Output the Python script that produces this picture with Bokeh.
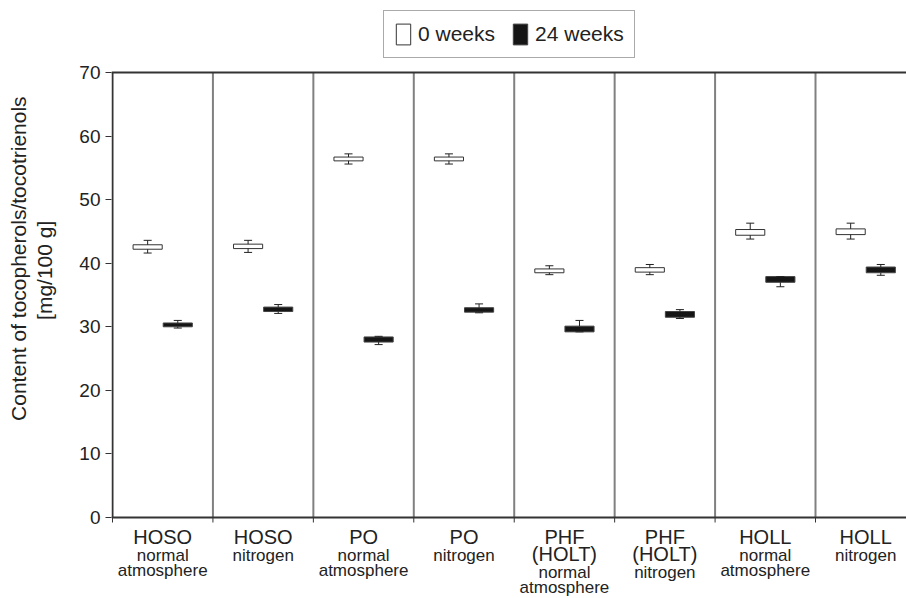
from bokeh.plotting import figure
from bokeh.models import (Range1d, FixedTicker, Span, Legend, LegendItem,
                          ColumnDataSource, LabelSet)
from bokeh.core.properties import value
from bokeh.embed import file_html
from bokeh.resources import INLINE

# ---------------- data ----------------
cat_main = ["HOSO", "HOSO", "PO", "PO", "PHF", "PHF", "HOLL", "HOLL"]
cat_sub = [
    ["normal", "atmosphere"],
    ["nitrogen"],
    ["normal", "atmosphere"],
    ["nitrogen"],
    ["(HOLT)", "normal", "atmosphere"],
    ["(HOLT)", "nitrogen"],
    ["normal", "atmosphere"],
    ["nitrogen"],
]

# 0 weeks (white boxes)
w_box_lo = [42.2, 42.3, 56.1, 56.1, 38.5, 38.6, 44.4, 44.5]
w_box_hi = [42.9, 43.0, 56.7, 56.7, 39.1, 39.3, 45.3, 45.4]
w_wlo = [41.6, 41.7, 55.6, 55.6, 38.2, 38.2, 43.8, 43.8]
w_whi = [43.6, 43.6, 57.2, 57.2, 39.6, 39.8, 46.3, 46.3]

# 24 weeks (black boxes)
b_box_lo = [30.0, 32.4, 27.6, 32.3, 29.2, 31.5, 37.0, 38.5]
b_box_hi = [30.6, 33.1, 28.4, 33.0, 30.1, 32.4, 37.9, 39.4]
b_wlo = [29.8, 32.1, 27.2, 32.2, 29.2, 31.3, 36.3, 38.1]
b_whi = [31.0, 33.5, 28.5, 33.6, 31.0, 32.7, 37.9, 39.8]

y_ticks = [0, 10, 20, 30, 40, 50, 60, 70]
y_title = ["Content of tocopherols/tocotrienols", "[mg/100 g]"]
series_names = ["0 weeks", "24 weeks"]

# ---------------- layout constants ----------------
FONT = "Liberation Sans"
W, H = 906, 598
LEFT = 111          # frame left edge (px)
TOP0 = 72           # pixel row of y = 70
BOT0 = 517          # pixel row of y = 0
CATW = 100.43       # px per category
PX = (BOT0 - TOP0) / 70.0
n = len(cat_main)

x0 = -1.0 / CATW
p = figure(width=W, height=H, output_backend="svg", toolbar_location=None,
           x_axis_location=None,
           x_range=Range1d(x0, x0 + (W - LEFT) / CATW),
           y_range=Range1d(-(H - BOT0) / PX, 70 + TOP0 / PX),
           min_border_left=LEFT, min_border_right=0, min_border_top=0,
           min_border_bottom=0)
p.outline_line_color = None
p.background_fill_color = "white"
p.border_fill_color = "white"
p.xgrid.grid_line_color = None
p.ygrid.grid_line_color = None

# y axis
p.yaxis.ticker = FixedTicker(ticks=y_ticks)
p.yaxis.bounds = (0, 70)
p.yaxis.axis_line_color = None
p.yaxis.minor_tick_line_color = None
p.yaxis.major_tick_out = 6
p.yaxis.major_tick_in = 0
p.yaxis.major_tick_line_width = 1
p.yaxis.major_tick_line_color = "#333333"
p.yaxis.major_label_text_font = FONT
p.yaxis.major_label_text_font_size = "19px"
p.yaxis.major_label_text_color = "#222222"
p.yaxis.major_label_standoff = 5
NB = "\u00a0"
p.yaxis.axis_label = NB * 14 + y_title[0] + "\n" + NB * 10 + y_title[1]
p.yaxis.axis_label_text_font = FONT
p.yaxis.axis_label_text_font_size = "21px"
p.yaxis.axis_label_text_font_style = "normal"
p.yaxis.axis_label_text_color = "#222222"
p.yaxis.axis_label_text_line_height = 1.15
p.yaxis.axis_label_standoff = 20

# frame lines: y-axis rule, x-axis rule, top border, separators, x ticks
bounds_x = list(range(0, n + 1))
p.segment(x0=[0], y0=[0], x1=[0], y1=[70], line_color="#333333", line_width=2)
p.add_layout(Span(location=0, dimension="width", line_color="#333333", line_width=2))
p.add_layout(Span(location=70, dimension="width", line_color="#333333", line_width=2))
p.segment(x0=bounds_x[1:-1], y0=[0] * (n - 1), x1=bounds_x[1:-1], y1=[70] * (n - 1),
          line_color="#808080", line_width=2)
p.segment(x0=bounds_x, y0=[0] * (n + 1), x1=bounds_x, y1=[-5 / PX] * (n + 1),
          line_color="#333333", line_width=1)

# ---------------- boxes ----------------
half = 0.145
cap = 0.04

def draw(lo, hi, wlo, whi, offset, fill, line):
    xs = [i + offset for i in range(n)]
    src = ColumnDataSource(dict(x=xs, left=[x - half for x in xs], right=[x + half for x in xs],
                                lo=lo, hi=hi, wlo=wlo, whi=whi,
                                cl=[x - cap for x in xs], cr=[x + cap for x in xs]))
    r = p.quad(left="left", right="right", bottom="lo", top="hi", source=src,
               fill_color=fill, line_color=line, line_width=1)
    for a, b in (("hi", "whi"), ("lo", "wlo")):
        p.segment(x0="x", y0=a, x1="x", y1=b, source=src, line_color="#222222", line_width=1)
    for c in ("whi", "wlo"):
        p.segment(x0="cl", y0=c, x1="cr", y1=c, source=src, line_color="#222222", line_width=1)
    return r

r_w = draw(w_box_lo, w_box_hi, w_wlo, w_whi, 0.35, "white", "#333333")
r_b = draw(b_box_lo, b_box_hi, b_wlo, b_whi, 0.65, "#151515", "#444444")

# ---------------- legend ----------------
legend = Legend(items=[LegendItem(label=series_names[0], renderers=[r_w]),
                       LegendItem(label=series_names[1], renderers=[r_b])],
                orientation="horizontal", location=(383 - LEFT, H - 58),
                glyph_width=18, glyph_height=26, label_standoff=6, spacing=16,
                padding=10, margin=0,
                label_text_font=FONT, label_text_font_size="21px", label_text_color="#222222",
                border_line_color="#555555", border_line_width=1.5,
                background_fill_color="white", background_fill_alpha=1)
p.add_layout(legend, "center")

# ---------------- category labels ----------------
rows = {}
for i, (m, subs) in enumerate(zip(cat_main, cat_sub)):
    off = 26
    lines = [m] + subs
    for k, t in enumerate(lines):
        big = (k == 0) or t.startswith("(")
        key = (off, big)
        rows.setdefault(key, dict(x=[], text=[]))
        rows[key]["x"].append(i + 0.5)
        rows[key]["text"].append(t)
        off += 17 if big else 15

for (off, big), d in rows.items():
    d["y"] = [0] * len(d["x"])
    src = ColumnDataSource(d)
    p.add_layout(LabelSet(x="x", y="y", text="text", source=src,
                          y_offset=-off, text_align="center",
                          text_baseline="alphabetic", text_font=value(FONT),
                          text_font_size=value("20px" if big else "17px"),
                          text_color=value("#222222")))

open("out.html", "w").write(file_html(p, INLINE))
